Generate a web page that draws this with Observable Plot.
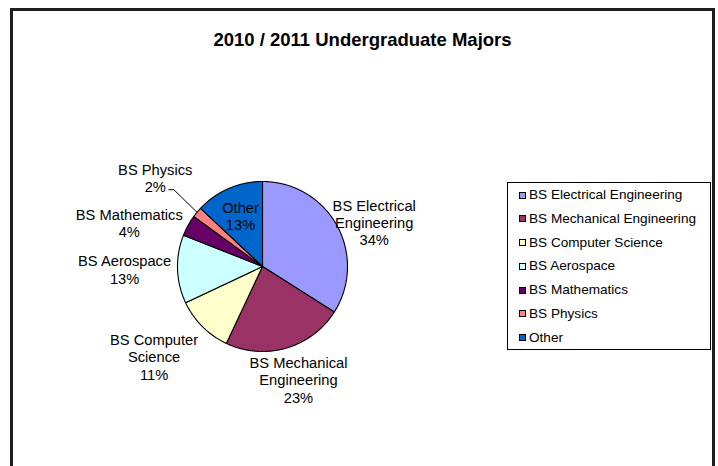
<!DOCTYPE html>
<html>
<head>
<meta charset="utf-8">
<script src="https://cdn.jsdelivr.net/npm/d3@7"></script>
<script src="https://cdn.jsdelivr.net/npm/@observablehq/plot@0.6"></script>
<style>
  html, body { margin: 0; padding: 0; background: #fff; overflow: hidden; }
  #wrap { position: relative; width: 718px; height: 466px; font-family: "Liberation Sans", Arial, sans-serif; }
  #wrap > svg { position: absolute; left: 0; top: 0; }
  #border { position: absolute; left: 10px; top: 8px; width: 705px; height: 500px; border: 3px solid #1e1e1e; box-sizing: border-box; pointer-events: none; }
  #title { position: absolute; left: 10px; width: 705px; top: 29px; text-align: center; font-weight: bold; font-size: 18.5px; line-height: 22px; color: #000; }
  #legend { position: absolute; left: 507px; top: 182px; width: 204px; height: 168px; border: 1px solid #000; box-sizing: border-box; background: #fff; }
  .item { position: relative; height: 23.8px; line-height: 23.8px; font-size: 13.6px; color: #000; white-space: nowrap; }
  .sw { position: absolute; left: 11px; top: 8.5px; width: 7px; height: 7px; border: 1px solid #000; box-sizing: border-box; }
  .lab { position: absolute; left: 21px; top: 0; }
</style>
</head>
<body>
<div id="wrap"></div>
<script>
// ---- data ----
const categories = [
  "BS Electrical Engineering",
  "BS Mechanical Engineering",
  "BS Computer Science",
  "BS Aerospace",
  "BS Mathematics",
  "BS Physics",
  "Other"
];
const shares = [34, 23, 11, 13, 4, 2, 13];
const colors = ["#9999FF", "#993366", "#FFFFCC", "#CCFFFF", "#660066", "#FF8080", "#0066CC"];
const chartTitle = "2010 / 2011 Undergraduate Majors";
const insideLabels = ["Other"];

// ---- layout (styles) ----
const W = 718, H = 466;
const CX = 262, CY = 266, R = 85;       // pie box in pixels
const FONT = "Liberation Sans, Arial, sans-serif";
const LABEL_PX = 14.7, LINE_PX = 17.3, WRAP_PX = 116;
const GAP_V = 6, GAP_L = 6, GAP_R = -5;

const rows = categories.map((cat, i) => ({cat, share: shares[i]}));

const ctx = document.createElement("canvas").getContext("2d");
ctx.font = `${LABEL_PX}px "Liberation Sans", Arial, sans-serif`;
const measure = (t) => ctx.measureText(t).width;
function wrap(text) {
  const words = text.split(" ");
  const lines = [];
  let cur = "";
  for (const w of words) {
    const t = cur ? cur + " " + w : w;
    if (cur && measure(t) > WRAP_PX) { lines.push(cur); cur = w; } else cur = t;
  }
  if (cur) lines.push(cur);
  return lines;
}

const arcs = d3.pie().sort(null).value(d => d.share)(rows);

// slice polygons in unit coordinates (y up)
const slicePts = [];
for (const a of arcs) {
  const n = Math.max(2, Math.ceil((a.endAngle - a.startAngle) / 0.01));
  slicePts.push({cat: a.data.cat, x: 0, y: 0});
  for (let k = 0; k <= n; k++) {
    const t = a.startAngle + (a.endAngle - a.startAngle) * k / n;
    slicePts.push({cat: a.data.cat, x: Math.sin(t), y: Math.cos(t)});
  }
  slicePts.push({cat: a.data.cat, x: 0, y: 0});
}

// label placement (pixels), Excel-like outside labels
const placed = [];
const labels = [];
const leaders = [];
for (const a of arcs) {
  const name = a.data.cat;
  const lines = wrap(name).concat(`${a.data.share}%`);
  const w = d3.max(lines, measure);
  const h = lines.length * LINE_PX;
  const mid = (a.startAngle + a.endAngle) / 2;
  const s = Math.sin(mid), c = Math.cos(mid);
  let cx, cy, leader = false;
  if (insideLabels.includes(name)) {
    cx = CX + s * R * 0.65; cy = CY - c * R * 0.65;
  } else {
    const ax = CX + s * (R + (s < 0 ? GAP_L : GAP_R));
    const ay = CY - c * (R + GAP_V);
    const k = s > 0.3 ? 1 : s < -0.3 ? -1 : s;
    cx = ax + k * w / 2;
    cy = c > 0.6 ? ay - h / 2 : c < -0.6 ? ay + h / 2 : ay;
    for (const b of placed) {
      const ox = Math.min(cx + w / 2, b.x1) - Math.max(cx - w / 2, b.x0);
      const oy = Math.min(cy + h / 2, b.y1) - Math.max(cy - h / 2, b.y0);
      if (ox > 0 && oy > -10) {
        if (c > 0) cy = b.y0 - 10 - h / 2; else cy = b.y1 + 10 + h / 2;
        leader = true;
      }
    }
    placed.push({x0: cx - w / 2, x1: cx + w / 2, y0: cy - h / 2, y1: cy + h / 2});
    if (leader) {
      const lw = measure(lines[lines.length - 1]);
      const ly = cy + h / 2 - LINE_PX / 2 + 3;
      const ex = s < 0 ? cx + lw / 2 + 3 : cx - lw / 2 - 3;
      const pts = [[ex, ly], [ex + (s < 0 ? 5 : -5), ly], [CX + s * R, CY - c * R]];
      pts.forEach(([px, py]) => leaders.push({cat: name, x: (px - CX) / R, y: (CY - py) / R}));
    }
  }
  labels.push({cat: name, text: lines.join("\n"), x: (cx - CX) / R, y: (CY - cy) / R});
}

const chart = Plot.plot({
  width: W,
  height: H,
  marginLeft: CX - R,
  marginRight: W - (CX + R),
  marginTop: CY - R,
  marginBottom: H - (CY + R),
  x: {domain: [-1, 1], axis: null},
  y: {domain: [-1, 1], axis: null},
  color: {type: "ordinal", domain: categories, range: colors},
  style: {fontFamily: FONT, background: "transparent", overflow: "visible"},
  marks: [
    Plot.line(slicePts, {x: "x", y: "y", z: "cat", fill: "cat", stroke: "#000", strokeWidth: 1.1, strokeLinejoin: "round", curve: "linear"}),
    Plot.line(leaders, {x: "x", y: "y", z: "cat", stroke: "#000", strokeWidth: 1}),
    Plot.text(labels, {x: "x", y: "y", text: "text", textAnchor: "middle", lineAnchor: "middle", lineHeight: LINE_PX / LABEL_PX, fontSize: LABEL_PX, fill: "#000"})
  ]
});

const wrapEl = document.getElementById("wrap");
wrapEl.appendChild(chart);

const titleEl = document.createElement("div");
titleEl.id = "title";
titleEl.textContent = chartTitle;
wrapEl.appendChild(titleEl);

const color = chart.scale("color");
const legend = document.createElement("div");
legend.id = "legend";
for (const cat of categories) {
  const it = document.createElement("div");
  it.className = "item";
  const sw = document.createElement("span");
  sw.className = "sw";
  sw.style.background = color.apply(cat);
  const lb = document.createElement("span");
  lb.className = "lab";
  lb.textContent = cat;
  it.appendChild(sw); it.appendChild(lb);
  legend.appendChild(it);
}
wrapEl.appendChild(legend);

const border = document.createElement("div");
border.id = "border";
wrapEl.appendChild(border);
</script>
</body>
</html>
